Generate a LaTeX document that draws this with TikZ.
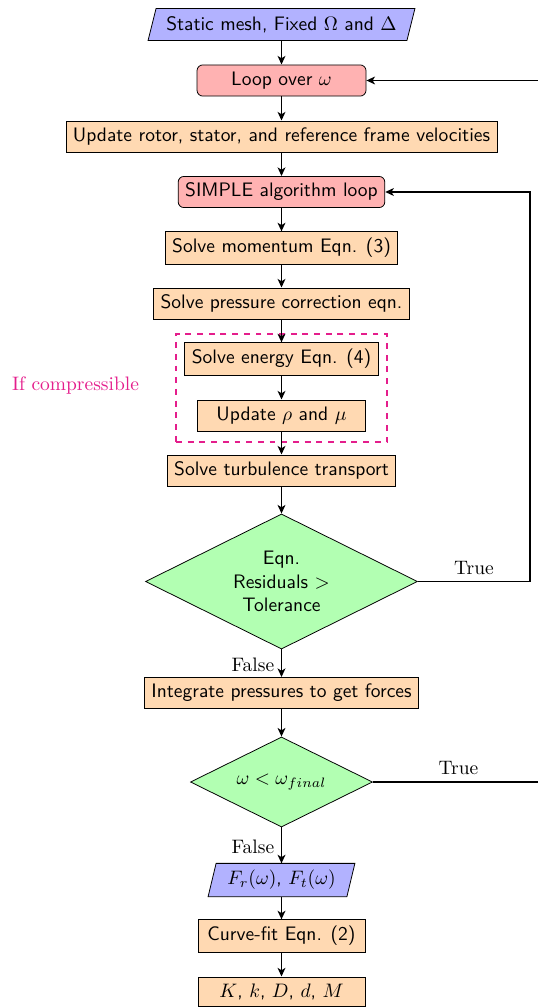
\documentclass[tikz,border=0pt]{standalone}
\usetikzlibrary{shapes.geometric,arrows.meta,calc,backgrounds}
\definecolor{pinkc}{RGB}{228,30,140}
\tikzset{
  proc/.style={rectangle, draw, fill=orange!30, font=\sffamily, minimum height=16pt, inner xsep=3.6pt},
  loopbox/.style={proc, fill=red!30, rounded corners=3pt},
  iobox/.style={rectangle, font=\sffamily, minimum height=16pt, inner xsep=3.6pt},
  iofill/.style={draw, fill=blue!30},
  dec/.style={diamond, draw, fill=green!30, font=\sffamily, align=center, inner sep=1pt, aspect=2},
  arr/.style={thick, -{Stealth[length=4.4pt,width=4pt,inset=1.2pt]}},
  lab/.style={font=\rmfamily},
}
\begin{document}
\begin{tikzpicture}[x=0.513pt,y=-0.513pt]
\useasboundingbox (0,0) rectangle (538,1007);
\clip (0,0) rectangle (538,1007);

% dashed group
\node[draw=pinkc, dashed, thick, minimum width=108.2pt, minimum height=55.4pt, inner sep=0pt] (grp) at (281.5,388) {};
\node[lab, text=pinkc] (ifc) at (75.5,386) {If compressible};

\node[iobox, minimum width=132.4pt] (n1) at (281.5,24.5) {Static mesh, Fixed $\Omega$ and $\Delta$};
\node[loopbox, minimum width=86.7pt] (loop) at (281.5,80.5) {Loop over $\omega$};
\node[proc] (upd) at (281.5,136.5) {Update rotor, stator, and reference frame velocities};
\node[loopbox] (simple) at (281.5,192) {SIMPLE algorithm loop};
\node[proc] (mom) at (281.5,248) {Solve momentum Eqn. (3)};
\node[proc] (press) at (281.5,303.5) {Solve pressure correction eqn.};
\node[proc] (energy) at (281.5,359) {Solve energy Eqn. (4)};
\node[proc, minimum width=86.2pt] (updrm) at (281.5,415.5) {Update $\rho$ and $\mu$};
\node[proc] (turb) at (281.5,470.5) {Solve turbulence transport};
\node[dec, minimum width=139.5pt, minimum height=69.3pt] (dec1) at (281.5,581.5) {Eqn.\\Residuals $>$\\Tolerance};
\node[proc] (integ) at (281.5,693) {Integrate pressures to get forces};
\node[dec, minimum width=93.4pt, minimum height=46.2pt] (dec2) at (281.5,782) {$\omega < \omega_{final}$};
\node[iobox, minimum width=70.8pt] (io2) at (281.5,880) {$F_r(\omega)$, $F_t(\omega)$};
\node[proc, minimum width=85.7pt] (curve) at (281.5,936) {Curve-fit Eqn. (2)};
\node[proc, minimum width=85.7pt, minimum height=15pt] (kbox) at (281.5,991.5) {$K$, $k$, $D$, $d$, $M$};

\begin{pgfonlayer}{background}
  \draw[iofill] ($(n1.south west)+(-4,0)$) -- ($(n1.north west)+(4,0)$) -- ($(n1.north east)+(4,0)$) -- ($(n1.south east)+(-4,0)$) -- cycle;
  \draw[iofill] ($(io2.south west)+(-4,0)$) -- ($(io2.north west)+(4,0)$) -- ($(io2.north east)+(4,0)$) -- ($(io2.south east)+(-4,0)$) -- cycle;
\end{pgfonlayer}

\coordinate (r1) at (530,581.5);
\coordinate (r2) at (544,782);

\draw[arr] (n1) -- (loop);
\draw[arr] (loop) -- (upd);
\draw[arr] (upd) -- (simple);
\draw[arr] (simple) -- (mom);
\draw[arr] (mom) -- (press);
\draw[arr] (press) -- (energy);
\draw[arr] (energy) -- (updrm);
\draw[arr] (updrm) -- (turb);
\draw[arr] (turb) -- (dec1);
\draw[arr] (dec1) -- node[lab, left, pos=0.55] {False} (integ);
\draw[arr] (dec1.east) -- node[lab, above] {True} (r1) |- (simple.east);
\draw[arr] (integ) -- (dec2);
\draw[arr] (dec2.east) -- node[lab, above] {True} (r2) |- (loop.east);
\draw[arr] (dec2) -- node[lab, left, pos=0.55] {False} (io2);
\draw[arr] (io2) -- (curve);
\draw[arr] (curve) -- (kbox);
\end{tikzpicture}
\end{document}
